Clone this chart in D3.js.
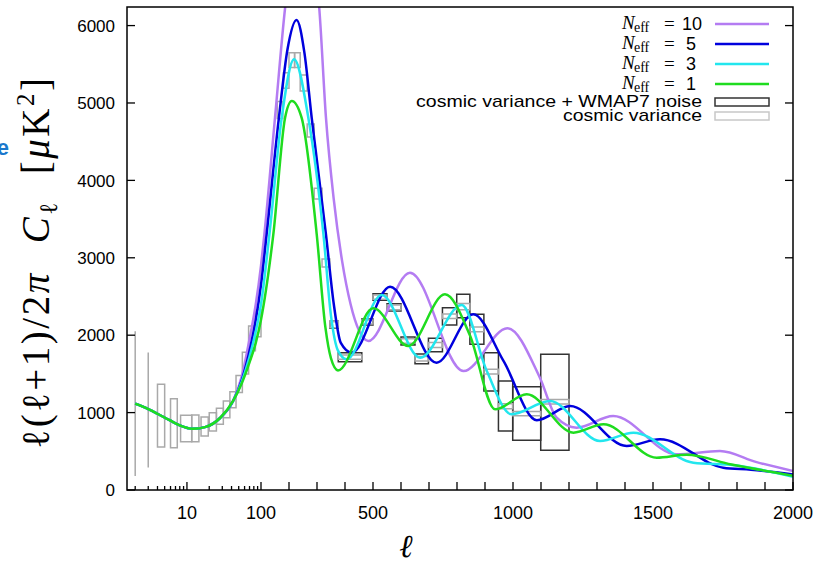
<!DOCTYPE html>
<html>
<head>
<meta charset="utf-8">
<script src="https://cdn.jsdelivr.net/npm/d3@7"></script>
<style>
  body { margin: 0; background: #fff; }
  svg { display: block; }
</style>
</head>
<body>
<div id="chart"></div>
<script>
// curve samples: [ell, D_ell in muK^2]
const lowEll = [[2, 1115], [3, 1045], [4, 985], [6, 895], [8, 835], [12, 790], [18, 815], [28, 930], [42, 1150]];

const neff10 = lowEll.concat([[55, 1470], [70, 1950], [85, 2400], [100, 2900], [112, 3303], [150, 4810],
  [186, 6227], [215, 7050], [245, 7350], [275, 7050], [308, 6227], [332, 4810], [360, 3750], [390, 2950],
  [420, 2400], [450, 2060], [483, 1925], [632, 2808], [823, 1537], [980, 2090], [1096, 1451], [1156, 934],
  [1227, 805], [1358, 956], [1584, 461], [1739, 504], [1870, 360], [2000, 245]]);

const neff5 = lowEll.concat([[55, 1420], [70, 1800], [85, 2200], [100, 2650], [120, 3303], [164, 4810],
  [195, 5700], [227, 6072], [255, 5650], [281, 4810], [332, 3303], [360, 2400], [385, 1900], [424, 1774],
  [561, 2627], [727, 1645], [858, 2270], [966, 1667], [1085, 901], [1204, 1085], [1406, 568], [1525, 655],
  [1751, 288], [1850, 262], [2000, 200]]);

const neff3 = lowEll.concat([[55, 1400], [70, 1720], [85, 2050], [100, 2400], [130, 3303], [174, 4810],
  [218, 5565], [269, 4810], [323, 3303], [350, 2250], [375, 1800], [406, 1688], [531, 2519], [668, 1710],
  [817, 2390], [906, 1540], [995, 978], [1132, 1150], [1311, 633], [1430, 741], [1644, 353], [1790, 320],
  [2000, 170]]);

const neff1 = lowEll.concat([[55, 1380], [70, 1650], [85, 1900], [100, 2200], [144, 3303], [186, 4810],
  [210, 5026], [245, 4810], [299, 3303], [330, 2100], [350, 1700], [375, 1545], [501, 2347], [626, 1860],
  [757, 2528], [846, 2000], [936, 1043], [1049, 1236], [1216, 741], [1323, 849], [1513, 417], [1620, 455],
  [1780, 330], [2000, 185]]);

const seriesNames = ["10", "5", "3", "1"];
const seriesData = [neff10, neff5, neff3, neff1];
const seriesColors = ["#b47cf2", "#0000dd", "#22e6ee", "#1fdc1f"];

// cosmic variance bins: [ellMin, ellMax, low, high]
const cvBins = [
  [2, 2, 180, 2050], [3, 3, 290, 1775], [4, 5, 556, 1366], [6, 7.4, 546, 1180], [8.2, 11.6, 624, 965],
  [11.6, 14.5, 624, 969], [15.5, 19.4, 698, 943], [20, 25, 762, 999], [25, 31, 849, 1055], [31, 38, 934, 1150],
  [38, 46, 1063, 1270], [46, 56, 1260, 1480], [56, 68, 1500, 1780], [68, 84, 1800, 2120], [84, 100, 1980, 2330],
  [158, 178, 4800, 5020], [180, 200, 5190, 5390], [200, 220, 5460, 5650], [220, 240, 5460, 5650],
  [240, 265, 5155, 5360], [265, 290, 4560, 4730], [290, 318, 3760, 3900], [318, 346, 2880, 2985],
  [346, 376, 2097, 2174], [376, 460, 1690, 1745], [460, 500, 2145, 2195], [500, 550, 2465, 2520],
  [550, 600, 2330, 2390], [600, 650, 1895, 1955], [650, 698, 1665, 1725], [698, 748, 1840, 1905],
  [748, 799, 2215, 2275], [799, 846, 2330, 2410], [846, 896, 2045, 2105], [896, 948, 1500, 1560],
  [948, 999, 1050, 1115], [999, 1099, 960, 1015], [1099, 1200, 1110, 1170]
];

// cosmic variance + WMAP7 noise bins: [ellMin, ellMax, low, high]
const noiseBins = [
  [346, 376, 2090, 2180], [376, 460, 1658, 1774], [460, 500, 2132, 2209], [500, 550, 2450, 2536],
  [550, 600, 2313, 2407], [600, 650, 1873, 1977], [650, 698, 1632, 1757], [698, 748, 1787, 1960],
  [748, 799, 2132, 2355], [799, 846, 2226, 2528], [846, 896, 1882, 2270], [896, 948, 1279, 1774],
  [948, 999, 762, 1408], [999, 1099, 642, 1335], [1099, 1200, 513, 1753]
];

const yTicks = [0, 1000, 2000, 3000, 4000, 5000, 6000];
const xLabelTicks = [10, 100, 500, 1000, 1500, 2000];
const xMinorLog = [2, 3, 4, 5, 6, 7, 8, 9, 20, 30, 40, 50, 60, 70, 80, 90];
const xMajorLog = [10, 100];
const xLinTicks = d3.range(200, 2001, 100);

const width = 825, height = 566;
const m = { left: 127, right: 793, top: 7, bottom: 490 };
const sans = "Liberation Sans, Arial, sans-serif";
const serif = "Liberation Serif, DejaVu Serif, serif";

const svg = d3.select("#chart").append("svg")
  .attr("width", width).attr("height", height);

// hybrid axis: log below ell = 100, linear above
const xLog = d3.scaleLog().domain([1.55, 100]).range([m.left, 261]);
const xLin = d3.scaleLinear().domain([100, 2000]).range([261, m.right]);
const x = (l) => (l < 100 ? xLog(l) : xLin(l));
const y = d3.scaleLinear().domain([0, 6240]).range([m.bottom, m.top]);

svg.append("clipPath").attr("id", "plot")
  .append("rect").attr("x", m.left).attr("y", m.top)
  .attr("width", m.right - m.left).attr("height", m.bottom - m.top);

const boxPath = (b) => {
  const x0 = x(b[0]), x1 = x(b[1]), y0 = y(b[2]), y1 = y(b[3]);
  return `M${x0},${y0}H${x1}V${y1}H${x0}Z`;
};

const plot = svg.append("g").attr("clip-path", "url(#plot)");

plot.selectAll("path.noise")
  .data(noiseBins)
  .enter()
  .append("path")
  .attr("class", "noise")
  .attr("d", boxPath)
  .attr("fill", "none")
  .attr("stroke", "#333")
  .attr("stroke-width", 1.5);

plot.selectAll("path.cv")
  .data(cvBins)
  .enter()
  .append("path")
  .attr("class", "cv")
  .attr("d", boxPath)
  .attr("fill", "none")
  .attr("stroke", "#a9a9a9")
  .attr("stroke-width", 1.5);

const line = d3.line()
  .x((d) => x(d[0]))
  .y((d) => y(d[1]))
  .curve(d3.curveMonotoneX);

plot.selectAll("path.model")
  .data(seriesData)
  .enter()
  .append("path")
  .attr("class", "model")
  .attr("d", line)
  .attr("fill", "none")
  .attr("stroke", (d, i) => seriesColors[i])
  .attr("stroke-width", 2.5);

// frame
svg.append("rect")
  .attr("x", m.left).attr("y", m.top)
  .attr("width", m.right - m.left).attr("height", m.bottom - m.top)
  .attr("fill", "none").attr("stroke", "#000").attr("stroke-width", 1.5);

// y ticks (inward, both sides)
const yAxis = svg.append("g");
yTicks.forEach((t) => {
  yAxis.append("line").attr("x1", m.left).attr("x2", m.left + 8)
    .attr("y1", y(t)).attr("y2", y(t)).attr("stroke", "#000").attr("stroke-width", 1.3);
  yAxis.append("line").attr("x1", m.right).attr("x2", m.right - 8)
    .attr("y1", y(t)).attr("y2", y(t)).attr("stroke", "#000").attr("stroke-width", 1.3);
  yAxis.append("text")
    .attr("x", 115).attr("y", y(t)).attr("dy", "0.36em")
    .attr("text-anchor", "end")
    .attr("font-family", sans)
    .attr("font-size", 17)
    .text(t);
});

// x ticks
const xAxis = svg.append("g");
const tick = (v, len) => xAxis.append("line")
  .attr("x1", x(v)).attr("x2", x(v))
  .attr("y1", m.bottom).attr("y2", m.bottom - len)
  .attr("stroke", "#000").attr("stroke-width", 1.3);
xMinorLog.forEach((v) => tick(v, 4));
xMajorLog.forEach((v) => tick(v, 8));
xLinTicks.forEach((v) => tick(v, 8));

xAxis.selectAll("text")
  .data(xLabelTicks)
  .enter()
  .append("text")
  .attr("x", (d) => x(d))
  .attr("y", 519)
  .attr("text-anchor", "middle")
  .attr("font-family", sans)
  .attr("font-size", 18)
  .text((d) => d);

// axis titles
svg.append("text")
  .attr("x", 406).attr("y", 557)
  .attr("text-anchor", "middle")
  .attr("font-family", serif).attr("font-style", "italic")
  .attr("font-size", 32)
  .text("\u2113");

const ylab = svg.append("text")
  .attr("transform", "translate(49,262) rotate(-90)")
  .attr("text-anchor", "middle")
  .attr("font-family", serif)
  .attr("font-size", 39)
  .attr("letter-spacing", 2.5);
ylab.append("tspan").text("\u2113(\u2113+1)/2");
ylab.append("tspan").attr("font-style", "italic").text("\u03c0");
ylab.append("tspan").attr("dx", 28).attr("font-style", "italic").text("C");
ylab.append("tspan").attr("font-size", 25).attr("dy", 8).text("\u2113");
ylab.append("tspan").attr("dx", 26).attr("dy", -8).text("[");
ylab.append("tspan").attr("font-style", "italic").text("\u03bc");
ylab.append("tspan").text("K");
ylab.append("tspan").attr("font-size", 25).attr("dy", -15).text("2");
ylab.append("tspan").attr("dy", 15).text("]");

// stray blue glyph at the left edge of the slide
svg.append("text")
  .attr("x", 9).attr("y", 155)
  .attr("text-anchor", "end")
  .attr("font-family", sans)
  .attr("font-weight", "bold")
  .attr("font-size", 22)
  .attr("fill", "#1a78cc")
  .text("e");

// legend
const legend = svg.append("g");
const legendY = [24, 44, 64, 84];
seriesNames.forEach((name, i) => {
  const ly = legendY[i];
  const t = legend.append("text").attr("y", ly + 5).attr("font-family", serif);
  t.append("tspan").attr("x", 622).attr("font-style", "italic").attr("font-size", 19).text("N");
  t.append("tspan").attr("x", 634).attr("dy", 3).attr("font-size", 14).text("eff");
  t.append("tspan").attr("x", 664).attr("dy", -2).attr("font-size", 19).text("=");
  t.append("tspan")
    .attr("x", name.length > 1 ? 682 : 686)
    .attr("font-family", sans).attr("font-size", 18).text(name);
  legend.append("line")
    .attr("x1", 715).attr("x2", 769)
    .attr("y1", ly).attr("y2", ly)
    .attr("stroke", seriesColors[i]).attr("stroke-width", 2.5);
});

const boxLegend = [
  { label: "cosmic variance + WMAP7 noise", y: 102, w: 286, stroke: "#333" },
  { label: "cosmic variance", y: 116, w: 139, stroke: "#c8c8c8" }
];
boxLegend.forEach((d) => {
  legend.append("text")
    .attr("x", 702 - d.w).attr("y", d.y + 5)
    .attr("font-family", sans)
    .attr("font-size", 17)
    .attr("textLength", d.w)
    .attr("lengthAdjust", "spacingAndGlyphs")
    .text(d.label);
  legend.append("rect")
    .attr("x", 715).attr("y", d.y - 4)
    .attr("width", 54).attr("height", 8)
    .attr("fill", "none").attr("stroke", d.stroke).attr("stroke-width", 1.5);
});
</script>
</body>
</html>
